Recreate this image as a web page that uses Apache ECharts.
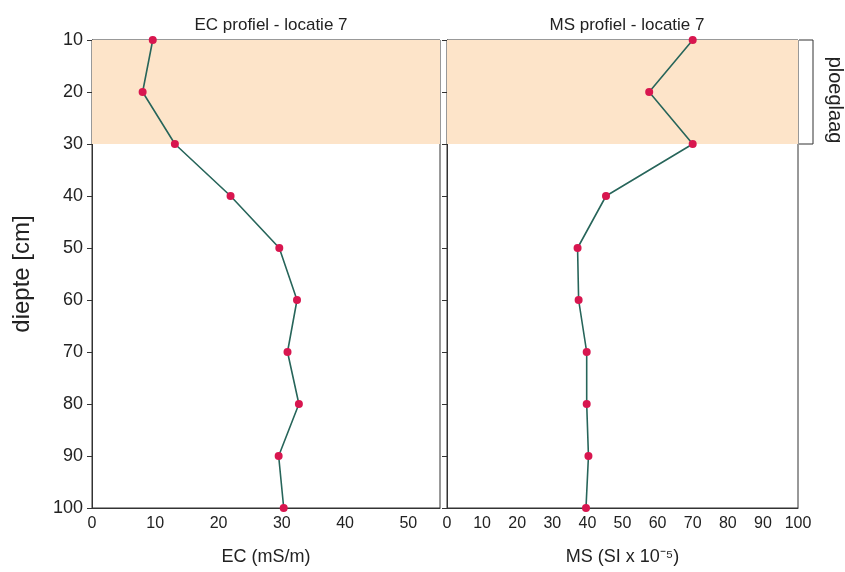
<!DOCTYPE html>
<html>
<head>
<meta charset="utf-8">
<script src="https://cdn.jsdelivr.net/npm/echarts@6/dist/echarts.min.js"></script>
<style>
  html, body { margin: 0; padding: 0; background: #fff; }
  #main { width: 845px; height: 572px; }
</style>
</head>
<body>
<div id="main"></div>
<script>
// diepte (cm)
var depths = [10, 20, 30, 40, 50, 60, 70, 80, 90, 100];
// EC (mS/m)
var ecValues = [9.6, 8.0, 13.1, 21.9, 29.6, 32.4, 30.9, 32.7, 29.5, 30.3];
// MS (SI x 10^-5)
var msValues = [70, 57.6, 70, 45.3, 37.2, 37.5, 39.8, 39.8, 40.3, 39.6];
// ploeglaag
var layerTop = 10;
var layerBottom = 30;

var lineColor = '#27655a';
var dotColor = '#d8164f';
var bandColor = '#fde4c9';
var font = 'Liberation Sans, Arial, sans-serif';

function pairs(vals) {
    return vals.map(function (v, i) { return [v, depths[i]]; });
}

var chart = echarts.init(document.getElementById('main'));

function yAxisOpt(idx, showLabels) {
    return {
        type: 'value',
        gridIndex: idx,
        inverse: true,
        min: 10,
        max: 100,
        interval: 10,
        name: showLabels ? 'diepte [cm]' : '',
        nameLocation: 'middle',
        nameGap: 58,
        nameTextStyle: { fontFamily: font, fontSize: 24, color: '#222' },
        axisLine: { show: true, lineStyle: { color: '#333', width: 1 } },
        axisTick: { show: true, length: 5, lineStyle: { color: '#333' } },
        axisLabel: { show: showLabels, fontFamily: font, fontSize: 18, color: '#222', margin: 9 },
        splitLine: { show: false }
    };
}

function xAxisOpt(idx, max, name) {
    return {
        type: 'value',
        gridIndex: idx,
        min: 0,
        max: max,
        interval: 10,
        name: name,
        nameLocation: 'middle',
        nameGap: 40,
        nameTextStyle: { fontFamily: font, fontSize: 18, color: '#222' },
        axisLine: { show: true, lineStyle: { color: '#333', width: 1 } },
        axisTick: { show: false },
        axisLabel: {
            fontFamily: font, fontSize: 16, color: '#222', margin: 8,
            formatter: function (v) { return v % 10 === 0 ? String(v) : ''; }
        },
        splitLine: { show: false }
    };
}

function seriesOpt(idx, vals) {
    return {
        type: 'line',
        xAxisIndex: idx,
        yAxisIndex: idx,
        data: pairs(vals),
        symbol: 'circle',
        symbolSize: 8,
        itemStyle: { color: dotColor },
        lineStyle: { color: lineColor, width: 1.6 },
        z: 3,
        markArea: {
            silent: true,
            itemStyle: { color: bandColor },
            data: [[{ yAxis: layerTop }, { yAxis: layerBottom }]]
        }
    };
}

chart.setOption({
    animation: false,
    title: [
        { text: 'EC profiel - locatie 7', left: 266, top: 12, textAlign: 'center',
          textStyle: { fontFamily: font, fontSize: 17, fontWeight: 'normal', color: '#222' } },
        { text: 'MS profiel - locatie 7', left: 622, top: 12, textAlign: 'center',
          textStyle: { fontFamily: font, fontSize: 17, fontWeight: 'normal', color: '#222' } }
    ],
    grid: [
        { left: 92, top: 40, width: 348, height: 468, show: true, borderColor: '#333', borderWidth: 1, backgroundColor: 'transparent' },
        { left: 447, top: 40, width: 351, height: 468, show: true, borderColor: '#333', borderWidth: 1, backgroundColor: 'transparent' }
    ],
    xAxis: [xAxisOpt(0, 55, 'EC (mS/m)'), xAxisOpt(1, 100, 'MS (SI x 10\u207B\u2075)')],
    yAxis: [yAxisOpt(0, true), yAxisOpt(1, false)],
    series: [seriesOpt(0, ecValues), seriesOpt(1, msValues)]
});

// bracket for ploeglaag, placed via the depth scale
var yTop = chart.convertToPixel({ yAxisIndex: 1 }, layerTop);
var yBot = chart.convertToPixel({ yAxisIndex: 1 }, layerBottom);
var bx = 813;
chart.setOption({
    graphic: [
        { type: 'polyline', shape: { points: [[bx - 14, yTop], [bx, yTop], [bx, yBot], [bx - 14, yBot]] },
          style: { stroke: '#333', lineWidth: 1, fill: null } },
        { type: 'text', x: 835, y: (yTop + yBot) / 2 + 8, rotation: -Math.PI / 2,
          style: { text: 'ploeglaag', fontFamily: font, fontSize: 20, fill: '#222',
                   textAlign: 'center', textVerticalAlign: 'middle' } }
    ]
});
</script>
</body>
</html>
